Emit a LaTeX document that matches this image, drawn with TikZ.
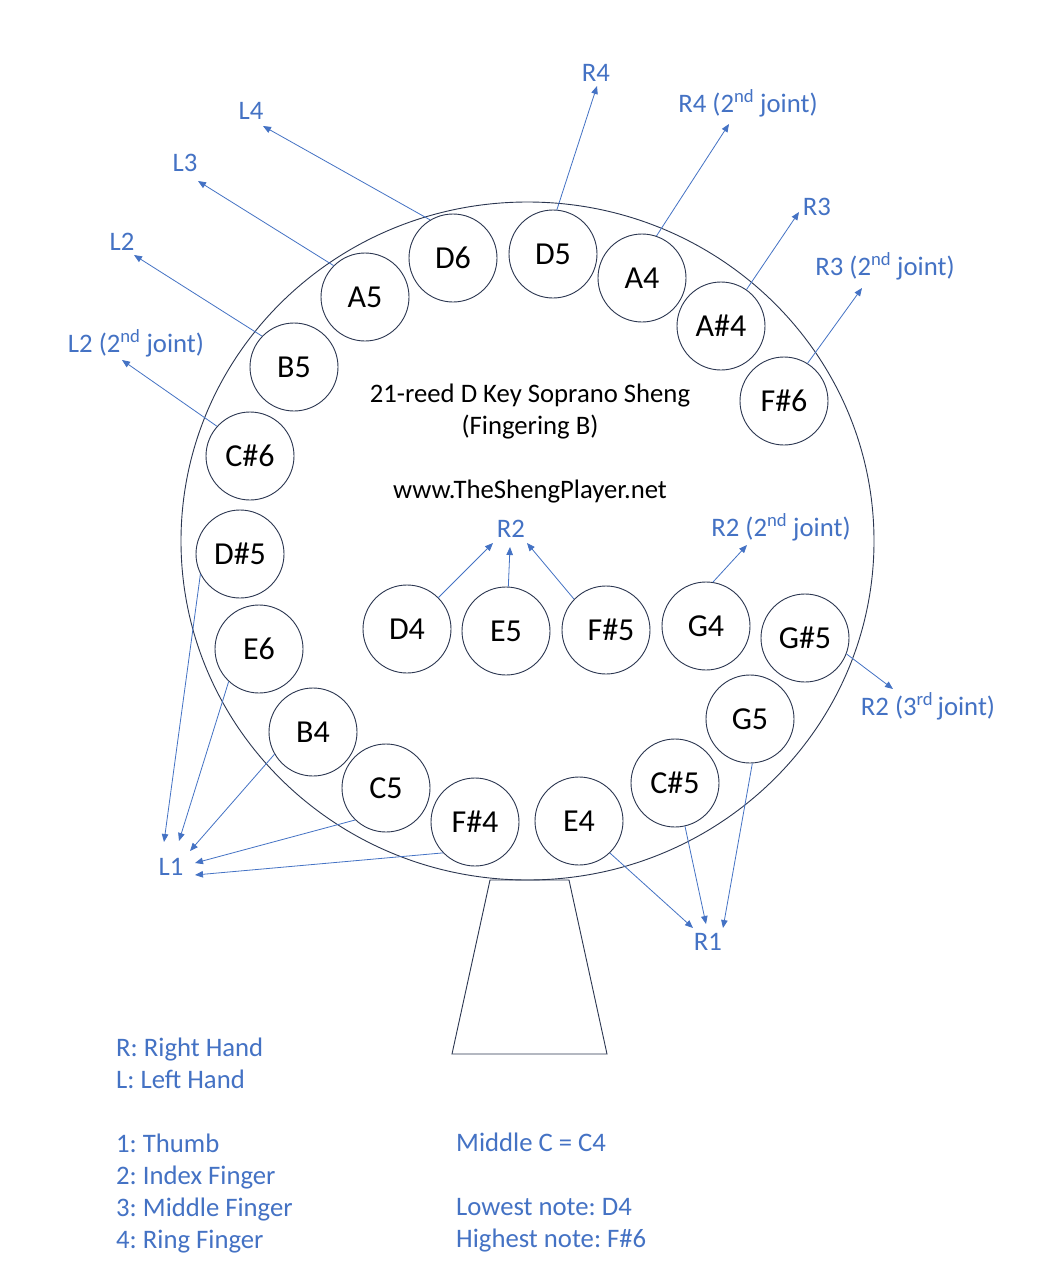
\documentclass[tikz,border=0pt]{standalone}
\usepackage{fontspec}
\setmainfont{Carlito}
\usetikzlibrary{arrows.meta}
\definecolor{lblue}{HTML}{4472C4}
\definecolor{navy}{HTML}{2B3650}
\frenchspacing
\begin{document}
\begin{tikzpicture}[x=1pt,y=-1pt,
 note/.style={circle,draw=navy,line width=0.9pt,minimum size=88pt,inner sep=0pt,font=\fontsize{32}{32}\selectfont},
 lab/.style={text=lblue,font=\fontsize{26.7}{32}\selectfont,inner sep=0pt,anchor=base},
 legend/.style={text=lblue,font=\fontsize{26.7}{32}\selectfont,inner sep=0pt,anchor=base west},
 title/.style={text=black,font=\fontsize{26.7}{32}\selectfont,inner sep=0pt,anchor=base},
 arr/.style={draw=lblue,line width=0.8pt,-{Triangle[length=8pt,width=6.5pt]}},
 body/.style={draw=navy,line width=0.9pt}]
\fill[white] (0,0) rectangle (1058,1280);
\useasboundingbox (0,0) rectangle (1058,1280);

% body
\draw[body] (527.5,541) ellipse [x radius=346.5, y radius=339];
\draw[body] (490,880) -- (569,880) -- (607,1054) -- (452,1054) -- cycle;

% pipes
\node[note] (D6) at (453,258) {D6};
\node[note] (D5) at (553,254) {D5};
\node[note] (A4) at (642,278) {A4};
\node[note] (As4) at (721,326) {A\#4};
\node[note] (Fs6) at (784,401) {F\#6};
\node[note] (A5) at (365,297) {A5};
\node[note] (B5) at (294,367) {B5};
\node[note] (Cs6) at (250,456) {C\#6};
\node[note] (Ds5) at (240,554) {D\#5};
\node[note] (E6) at (259,649) {E6};
\node[note] (B4) at (313,732) {B4};
\node[note] (C5) at (386,788) {C5};
\node[note] (Fs4) at (475,822) {F\#4};
\node[note] (E4) at (579,821) {E4};
\node[note] (Cs5) at (675,783) {C\#5};
\node[note] (G5) at (750,719) {G5};
\node[note] (Gs5) at (805,638) {G\#5};
\node[note] (G4) at (706,626) {G4};
\node[note] (Fs5) at (606,630) {\hspace{10pt}F\#5};
\node[note] (E5) at (506,631) {E5};
\node[note] (D4) at (407,629) {D4};

% titles
\node[title] (t1) at (530,402) {21-reed D Key Soprano Sheng};
\node[title] (t2) at (530,434) {(Fingering B)};
\node[title] (t3) at (530,498) {www.TheShengPlayer.net};

% finger labels
\node[lab] (L4) at (251,119) {L4};
\node[lab] (L3) at (185,171) {L3};
\node[lab] (L2) at (122,250) {L2};
\node[lab] (L2j) at (136,352) {L2 (2\textsuperscript{nd} joint)};
\node[lab] (L1) at (171,875) {L1};
\node[lab] (R4) at (596,81) {R4};
\node[lab] (R4j) at (748,112) {R4 (2\textsuperscript{nd} joint)};
\node[lab] (R3) at (817,215) {R3};
\node[lab] (R3j) at (885,275) {R3 (2\textsuperscript{nd} joint)};
\node[lab] (R2) at (511,537) {R2};
\node[lab] (R2j) at (781,536) {R2 (2\textsuperscript{nd} joint)};
\node[lab] (R2k) at (928,715) {R2 (3\textsuperscript{rd}\,joint)};
\node[lab] (R1) at (708,950) {R1};

% arrow tips
\coordinate (tL4) at (263,126);
\coordinate (tL3) at (198,181);
\coordinate (tL2) at (134,255);
\coordinate (tL2j) at (122,360);
\coordinate (tR4) at (597,86);
\coordinate (tR4j) at (729,124);
\coordinate (tR3) at (799,212);
\coordinate (tR3j) at (862,288);
\coordinate (tR2a) at (493,543);
\coordinate (tR2b) at (510,547);
\coordinate (tR2c) at (527,543);
\coordinate (tR2j) at (747,545);
\coordinate (tR2k) at (893,689);
\coordinate (tR1a) at (693,928);
\coordinate (tR1b) at (706,924);
\coordinate (tR1c) at (723,928);
\coordinate (tL1a) at (164,842);
\coordinate (tL1b) at (179,841);
\coordinate (tL1c) at (190,851);
\coordinate (tL1d) at (195,863);
\coordinate (tL1e) at (195,875);

% connectors
\draw[arr] (D6.121.6) -- (tL4);
\draw[arr] (A5.135) -- (tL3);
\draw[arr] (B5.136) -- (tL2);
\draw[arr] (Cs6.138) -- (tL2j);
\draw[arr] (D5.85) -- (tR4);
\draw[arr] (A4.71) -- (tR4j);
\draw[arr] (As4.55) -- (tR3);
\draw[arr] (Fs6.58) -- (tR3j);
\draw[arr] (D4.45) -- (tR2a);
\draw[arr] (E5.87) -- (tR2b);
\draw[arr] (Fs5.136) -- (tR2c);
\draw[arr] (G4.81) -- (tR2j);
\draw[arr] (Gs5.-21) -- (tR2k);
\draw[arr] (E4.-46) -- (tR1a);
\draw[arr] (Cs5.-77) -- (tR1b);
\draw[arr] (G5.-87) -- (tR1c);
\draw[arr] (Ds5.207) -- (tL1a);
\draw[arr] (E6.227) -- (tL1b);
\draw[arr] (B4.210) -- (tL1c);
\draw[arr] (C5.226) -- (tL1d);
\draw[arr] (Fs4.224) -- (tL1e);

% legend
\node[legend] (g1) at (116,1056) {R: Right Hand};
\node[legend] (g2) at (116,1088) {L: Left Hand};
\node[legend] (g3) at (116,1152) {1: Thumb};
\node[legend] (g4) at (116,1184) {2: Index Finger};
\node[legend] (g5) at (116,1216) {3: Middle Finger};
\node[legend] (g6) at (116,1248) {4: Ring Finger};
\node[legend] (g7) at (456,1151) {Middle C = C4};
\node[legend] (g8) at (456,1215) {Lowest note: D4};
\node[legend] (g9) at (456,1247) {Highest note: F\#6};
\end{tikzpicture}
\end{document}
